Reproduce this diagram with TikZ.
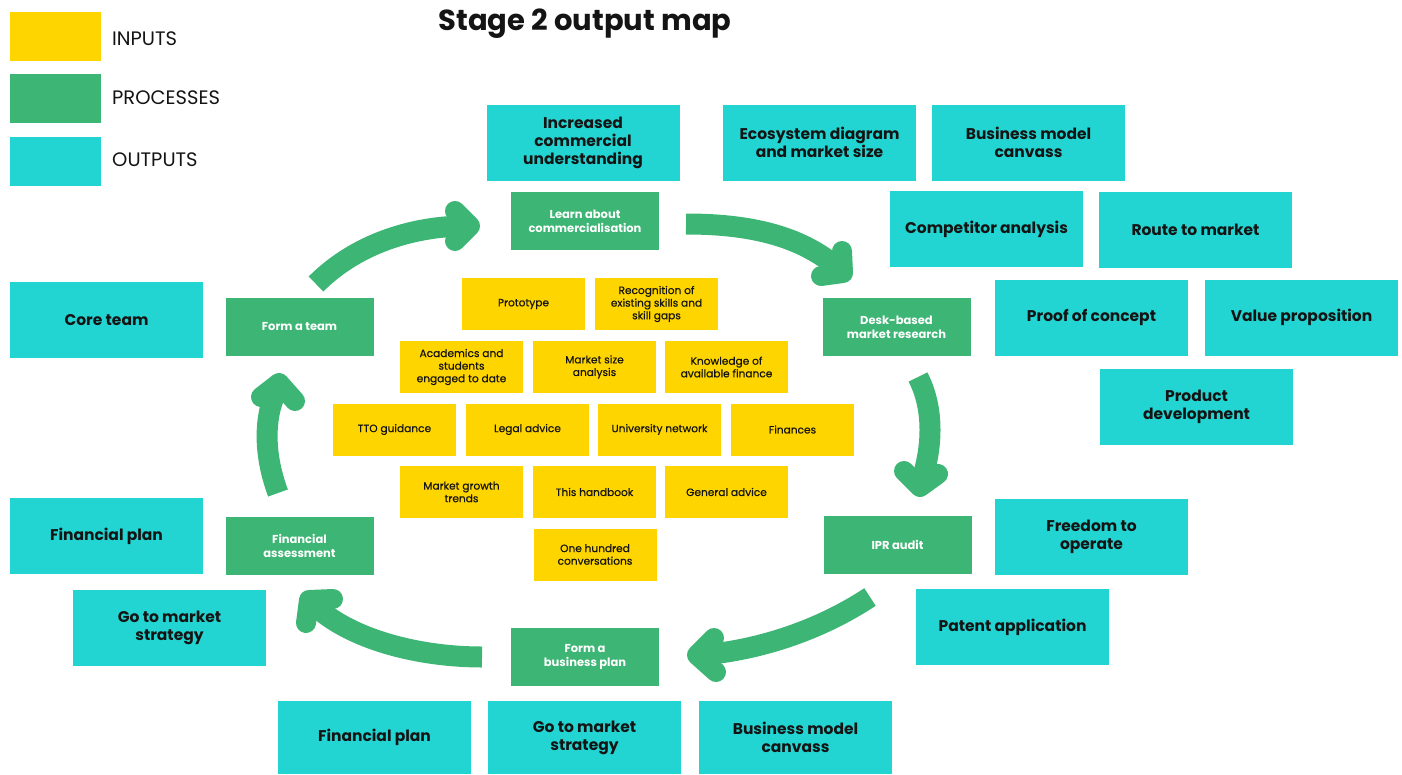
\documentclass[tikz,border=0pt]{standalone}
\usepackage{fontspec}
\setmainfont{Poppins}
\newfontfamily\medfont{Poppins}[FakeBold=0.5]
\definecolor{ocyan}{HTML}{22D5D2}
\definecolor{pgreen}{HTML}{3DB574}
\definecolor{iyellow}{HTML}{FFD500}
\definecolor{txt}{HTML}{141414}
\tikzset{
  outbox/.style={fill=ocyan, minimum width=193pt, minimum height=76pt, inner sep=0pt, align=center, text=txt, font=\fontsize{15.5}{18}\selectfont\bfseries},
  procbox/.style={fill=pgreen, minimum width=148pt, minimum height=58pt, inner sep=0pt, align=center, text=white, font=\fontsize{11.5}{14}\selectfont\bfseries},
  inbox/.style={fill=iyellow, minimum width=123pt, minimum height=52pt, inner sep=0pt, align=center, text=txt, font=\medfont\fontsize{10.6}{12.6}\selectfont},
  legbox/.style={minimum width=91pt, minimum height=49pt, inner sep=0pt, anchor=north west},
  leglabel/.style={anchor=west, inner sep=0pt, text=txt, font=\fontsize{19.5}{21}\selectfont},
  shaft/.style={draw=pgreen, line width=21pt},
  head/.style={draw=pgreen, line width=20pt, line cap=round, line join=round},
}
\begin{document}
\begin{tikzpicture}[x=1pt, y=-1pt]
\useasboundingbox (0,0) rectangle (1402,774);
% legend
\node[legbox, fill=iyellow] (legin) at (10,12) {};
\node[legbox, fill=pgreen] (legpr) at (10,74) {};
\node[legbox, fill=ocyan] (legout) at (10,137) {};
\node[leglabel] (legint) at (112,39) {INPUTS};
\node[leglabel] (legprt) at (112,98) {PROCESSES};
\node[leglabel] (legoutt) at (112,160) {OUTPUTS};
% title
\node[font=\fontsize{29}{31}\selectfont\bfseries, text=txt, inner sep=0pt] (title) at (585,24) {Stage 2 output map};
% outputs
\node[outbox] (incr) at (583,143) {Increased\\commercial\\understanding};
\node[outbox] (eco) at (819.5,142.5) {Ecosystem diagram\\and market size};
\node[outbox] (bmc1) at (1028.5,142.5) {Business model\\canvass};
\node[outbox] (comp) at (986.5,229) {Competitor analysis};
\node[outbox] (route) at (1195.5,229.5) {Route to market};
\node[outbox] (proof) at (1091.5,317.5) {Proof of concept};
\node[outbox] (value) at (1301.5,317.5) {Value proposition};
\node[outbox] (prod) at (1196.5,406.5) {Product\\development};
\node[outbox] (free) at (1091.5,537) {Freedom to\\operate};
\node[outbox] (patent) at (1012.5,627) {Patent application};
\node[outbox] (core) at (106.5,320) {Core team};
\node[outbox] (finplan1) at (106.5,536) {Financial plan};
\node[outbox] (gtm1) at (169.5,627.5) {Go to market\\strategy};
\node[outbox, minimum height=73pt] (finplan2) at (374.5,737.5) {Financial plan};
\node[outbox, minimum height=73pt] (gtm2) at (584.5,737.5) {Go to market\\strategy};
\node[outbox, minimum height=73pt] (bmc2) at (795.5,737.5) {Business model\\canvass};
% processes
\node[procbox] (learn) at (585,221) {Learn about\\commercialisation};
\node[procbox] (team) at (299.5,327) {Form a team};
\node[procbox] (desk) at (896.5,327) {Desk-based\\market research};
\node[procbox] (ipr) at (897.5,545) {IPR audit};
\node[procbox] (fin) at (299.5,545.5) {Financial\\assessment};
\node[procbox] (bplan) at (585,657) {Form a\\business plan};
% inputs
\node[inbox] (proto) at (523.5,304) {Prototype};
\node[inbox] (recog) at (656.5,304) {Recognition of\\existing skills and\\skill gaps};
\node[inbox] (acad) at (461.5,367) {Academics and\\students\\engaged to date};
\node[inbox] (msize) at (594.5,367) {Market size\\analysis};
\node[inbox] (know) at (726.5,367) {Knowledge of\\available finance};
\node[inbox] (tto) at (394.5,429.5) {TTO guidance};
\node[inbox] (legal) at (527.5,429.5) {Legal advice};
\node[inbox] (univ) at (659.5,429.5) {University network};
\node[inbox] (finances) at (792.5,429.5) {\raisebox{-2pt}{Finances}};
\node[inbox] (growth) at (461.5,492) {Market growth\\trends};
\node[inbox] (handbook) at (594.5,492) {This handbook};
\node[inbox] (general) at (726.5,492) {General advice};
\node[inbox] (hundred) at (595,554.5) {One hundred\\conversations};
% arrow 1: team -> learn
\coordinate (a1s) at (316,284);
\coordinate (a1t) at (470,226);
\draw[shaft] (a1s) .. controls (360,240) and (420,226) .. (466,226);
\draw[head] (455,211) -- (a1t) -- (455,241);
% arrow 2: learn -> desk
\coordinate (a2s) at (686,224);
\coordinate (a2t) at (843,273);
\draw[shaft] (a2s) .. controls (760,224) and (805,240) .. (838,268);
\draw[head] (842,251) -- (a2t) -- (821,276);
% arrow 3: desk -> ipr
\coordinate (a3s) at (918,377);
\coordinate (a3t) at (920,487);
\draw[shaft] (a3s) .. controls (935,410) and (932,450) .. (921,482);
\draw[head] (904,471) -- (a3t) -- (938,474);
% arrow 4: ipr -> bplan
\coordinate (a4s) at (870,597);
\coordinate (a4t) at (697,655);
\draw[shaft] (a4s) .. controls (820,630) and (760,650) .. (702,655);
\draw[head] (714,638) -- (a4t) -- (716,672);
% arrow 5: bplan -> fin
\coordinate (a5s) at (482,657);
\coordinate (a5t) at (309,600);
\draw[shaft] (a5s) .. controls (420,657) and (350,640) .. (313,604);
\draw[head] (333,599) -- (a5t) -- (306,623);
% arrow 6: fin -> team
\coordinate (a6s) at (278,493);
\coordinate (a6t) at (279,383);
\draw[shaft] (a6s) .. controls (262,450) and (265,412) .. (278,388);
\draw[head] (261,397) -- (a6t) -- (295,401);
\end{tikzpicture}
\end{document}
